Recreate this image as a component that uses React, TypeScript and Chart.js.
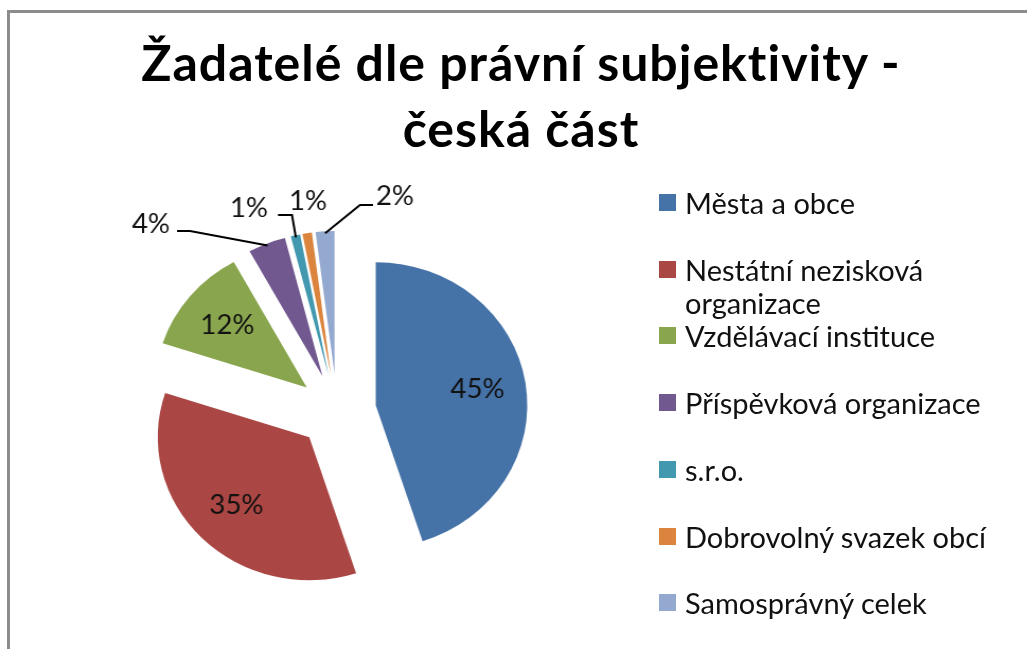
import React, { useEffect, useRef } from "react";
import { Chart, registerables } from "chart.js";

Chart.register(...registerables);

const titleLines = ["Žadatelé dle právní subjektivity -", "česká část"];
const categories = [
  "Města a obce",
  "Nestátní nezisková organizace",
  "Vzdělávací instituce",
  "Příspěvková organizace",
  "s.r.o.",
  "Dobrovolný svazek obcí",
  "Samosprávný celek",
];
const legendLines = [
  ["Města a obce"],
  ["Nestátní nezisková", "organizace"],
  ["Vzdělávací instituce"],
  ["Příspěvková organizace"],
  ["s.r.o."],
  ["Dobrovolný svazek obcí"],
  ["Samosprávný celek"],
];
const shares = [45, 35, 12, 4, 1, 1, 2];
const colors = ["#4572A7", "#AA4643", "#89A54E", "#71588F", "#4198AF", "#DB843D", "#93A9CF"];

const FONT = "Lato, 'Open Sans', sans-serif";
const EXPLODE = 37;
const RADIUS = 143;
const LABEL_SIZE = 26;
// the original chart is slightly wider than tall: canvas is stretched horizontally
const CANVAS_W = 636;
const CANVAS_CSS_W = 674;
const SX = CANVAS_CSS_W / CANVAS_W;

// outside label layout (page coords) for small slices
const outside: Record<number, { x: number; y: number; line: number[][] | null }> = {
  3: { x: 151, y: 225, line: [[177, 231], [190, 231]] },
  4: { x: 249, y: 209, line: [[278, 215], [292, 215]] },
  5: { x: 308, y: 202, line: null },
  6: { x: 395, y: 197, line: [[373, 205], [360, 205]] },
};

const explodePlugin = {
  id: "explode",
  afterDatasetUpdate(chart: any, args: any) {
    const meta = chart.getDatasetMeta(args.index);
    meta.data.forEach((arc: any) => {
      const mid = (arc.startAngle + arc.endAngle) / 2;
      arc.x += Math.cos(mid) * EXPLODE;
      arc.y += Math.sin(mid) * EXPLODE;
    });
  },
};

const labelPlugin = {
  id: "pctLabels",
  afterDatasetsDraw(chart: any) {
    const ctx = chart.ctx;
    const meta = chart.getDatasetMeta(0);
    const total = shares.reduce((a, b) => a + b, 0);
    ctx.save();
    ctx.font = `${LABEL_SIZE}px ${FONT}`;
    ctx.fillStyle = "#111";
    ctx.strokeStyle = "#000";
    ctx.lineWidth = 2;
    ctx.textAlign = "center";
    ctx.textBaseline = "middle";
    meta.data.forEach((arc: any, i: number) => {
      const mid = (arc.startAngle + arc.endAngle) / 2;
      const r = arc.outerRadius;
      const txt = Math.round((shares[i] / total) * 100) + "%";
      const o = outside[i];
      if (!o) {
        ctx.fillText(txt, arc.x + Math.cos(mid) * r * 0.68, arc.y + Math.sin(mid) * r * 0.68);
      } else {
        ctx.fillText(txt, o.x / SX, o.y);
        if (o.line) {
          ctx.beginPath();
          ctx.moveTo(o.line[0][0] / SX, o.line[0][1]);
          for (let k = 1; k < o.line.length; k++) ctx.lineTo(o.line[k][0] / SX, o.line[k][1]);
          ctx.lineTo(arc.x + Math.cos(mid) * (r - 2), arc.y + Math.sin(mid) * (r - 2));
          ctx.stroke();
        }
      }
    });
    ctx.restore();
  },
};

export default function App() {
  const ref = useRef<HTMLCanvasElement>(null);
  useEffect(() => {
    if (!ref.current) return;
    const chart = new Chart(ref.current, {
      type: "pie",
      data: {
        labels: categories,
        datasets: [
          {
            data: shares,
            backgroundColor: colors,
            borderWidth: 0,
            radius: RADIUS,
            clip: false,
          } as any,
        ],
      },
      options: {
        animation: false,
        responsive: false,
        events: [],
        layout: { padding: { top: 173, bottom: 0, left: 0, right: 0 } },
        plugins: {
          legend: { display: false },
          tooltip: { enabled: false },
          title: { display: false },
        },
      } as any,
      plugins: [explodePlugin, labelPlugin],
    });
    return () => chart.destroy();
  }, []);

  return (
    <div
      style={{
        position: "fixed",
        left: 0,
        top: 0,
        width: 1027,
        height: 649,
        overflow: "hidden",
        background: "#fff",
      }}
    >
      <div
        style={{
          position: "absolute",
          left: 7,
          top: 10,
          width: 2000,
          height: 2000,
          borderLeft: "3px solid #8c8c8c",
          borderTop: "3px solid #8c8c8c",
        }}
      />
      <div
        style={{
          position: "absolute",
          left: 0,
          top: 29,
          width: 1042,
          textAlign: "center",
          fontFamily: FONT,
          fontWeight: 700,
          fontSize: 50,
          letterSpacing: 1,
          lineHeight: "66px",
          color: "#000",
        }}
      >
        {titleLines.map((t, i) => (
          <div key={i}>{t}</div>
        ))}
      </div>
      <canvas
        ref={ref}
        width={CANVAS_W}
        height={649}
        style={{ position: "absolute", left: 0, top: 0, width: CANVAS_CSS_W, height: 649 }}
      />
      {legendLines.map((lines, i) => (
        <div
          key={i}
          style={{
            position: "absolute",
            left: 659,
            top: 203 + i * 66.7 - 17,
            fontFamily: FONT,
            fontSize: 29,
            lineHeight: "33px",
            color: "#111",
            whiteSpace: "nowrap",
          }}
        >
          <span
            style={{
              position: "absolute",
              left: 0,
              top: 8,
              width: 17,
              height: 17,
              background: colors[i],
            }}
          />
          <div style={{ marginLeft: 26 }}>
            {lines.map((l, k) => (
              <div key={k}>{l}</div>
            ))}
          </div>
        </div>
      ))}
    </div>
  );
}
